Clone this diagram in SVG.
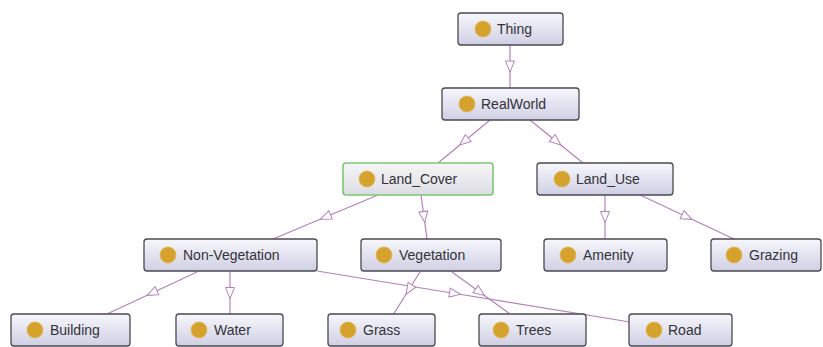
<svg xmlns="http://www.w3.org/2000/svg" width="823" height="347" viewBox="0 0 823 347">
<defs>
<linearGradient id="gBox" x1="0" y1="0" x2="0" y2="1">
<stop offset="0" stop-color="#f7f7fc"/>
<stop offset="1" stop-color="#cfcfe4"/>
</linearGradient>
<linearGradient id="gSel" x1="0" y1="0" x2="0" y2="1">
<stop offset="0" stop-color="#f6f6f8"/>
<stop offset="1" stop-color="#dcdce4"/>
</linearGradient>
<marker id="tri" viewBox="0 0 13 11" refX="6.5" refY="5.5" markerWidth="13" markerHeight="11" markerUnits="userSpaceOnUse" orient="auto">
<path d="M1,1 L12,5.5 L1,10 z" fill="#ffffff" stroke="#b580bd" stroke-width="1"/>
</marker>
<style>
.box{fill:url(#gBox);stroke:#4a4a50;stroke-width:1.3}
.sel{fill:url(#gSel);stroke:#7cc872;stroke-width:1.6}
.dot{fill:#d6a22e;stroke:#e2b858;stroke-width:0.8}
.lbl{font-family:"Liberation Sans",Arial,sans-serif;font-size:14px;fill:#333338}
.edge{fill:none;stroke:#b580bd;stroke-width:1.2;marker-mid:url(#tri)}
</style>
</defs>
<rect width="823" height="347" fill="#ffffff"/>
<g id="connectors">
<path class="edge" d="M510,45 L510,66.5 L510,88"/>
<path class="edge" d="M490,120 L464,141.5 L438,163"/>
<path class="edge" d="M530,120 L556.5,141.5 L583,163"/>
<path class="edge" d="M378,195 L325.5,217 L273,239"/>
<path class="edge" d="M421,195 L424,217 L427,239"/>
<path class="edge" d="M605,195 L605,217 L605,239"/>
<path class="edge" d="M640,195 L687,217 L734,239"/>
<path class="edge" d="M197,272 L152,293 L107,314"/>
<path class="edge" d="M230,272 L230,293 L230,314"/>
<path class="edge" d="M317,271 L455,293.5 L630,322"/>
<path class="edge" d="M420,272 L409,289.5 L393,315"/>
<path class="edge" d="M452,272 L480,292.3 L510,314"/>
</g>
<g id="n-thing"><rect class="box" x="458" y="13" width="105" height="32" rx="3"/><circle class="dot" cx="483" cy="29" r="8"/><text class="lbl" x="497" y="34">Thing</text></g>
<g id="n-realworld"><rect class="box" x="442" y="88" width="137" height="32" rx="3"/><circle class="dot" cx="467" cy="104" r="8"/><text class="lbl" x="481" y="109">RealWorld</text></g>
<g id="n-landcover"><rect class="sel" x="343" y="163" width="150" height="32" rx="3"/><circle class="dot" cx="367" cy="179" r="8"/><text class="lbl" x="381" y="184">Land_Cover</text></g>
<g id="n-landuse"><rect class="box" x="537" y="163" width="136" height="32" rx="3"/><circle class="dot" cx="562" cy="179" r="8"/><text class="lbl" x="576" y="184">Land_Use</text></g>
<g id="n-nonveg"><rect class="box" x="144" y="239" width="173" height="32" rx="3"/><circle class="dot" cx="168" cy="255" r="8"/><text class="lbl" x="183" y="260">Non-Vegetation</text></g>
<g id="n-veg"><rect class="box" x="361" y="239" width="140" height="32" rx="3"/><circle class="dot" cx="384" cy="255" r="8"/><text class="lbl" x="399" y="260">Vegetation</text></g>
<g id="n-amenity"><rect class="box" x="544" y="239" width="123" height="32" rx="3"/><circle class="dot" cx="568" cy="255" r="8"/><text class="lbl" x="583" y="260">Amenity</text></g>
<g id="n-grazing"><rect class="box" x="711" y="239" width="110" height="32" rx="3"/><circle class="dot" cx="734" cy="255" r="8"/><text class="lbl" x="749" y="260">Grazing</text></g>
<g id="n-building"><rect class="box" x="11" y="314" width="119" height="32" rx="3"/><circle class="dot" cx="35" cy="330" r="8"/><text class="lbl" x="50" y="335">Building</text></g>
<g id="n-water"><rect class="box" x="176" y="314" width="107" height="32" rx="3"/><circle class="dot" cx="199" cy="330" r="8"/><text class="lbl" x="214" y="335">Water</text></g>
<g id="n-grass"><rect class="box" x="328" y="314" width="107" height="32" rx="3"/><circle class="dot" cx="348" cy="330" r="8"/><text class="lbl" x="363" y="335">Grass</text></g>
<g id="n-trees"><rect class="box" x="479" y="314" width="107" height="32" rx="3"/><circle class="dot" cx="501" cy="330" r="8"/><text class="lbl" x="516" y="335">Trees</text></g>
<g id="n-road"><rect class="box" x="629" y="314" width="103" height="32" rx="3"/><circle class="dot" cx="654" cy="330" r="8"/><text class="lbl" x="668" y="335">Road</text></g>
</svg>
